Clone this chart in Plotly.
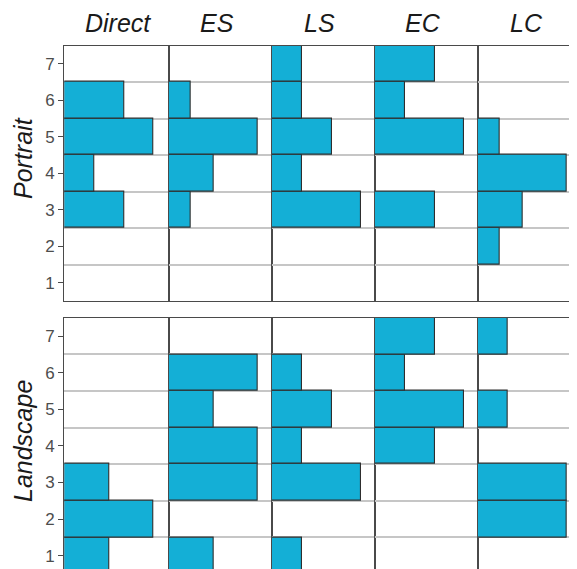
import plotly.graph_objects as go
from plotly.subplots import make_subplots

levels = [1, 2, 3, 4, 5, 6, 7]
methods = ["Direct", "ES", "LS", "EC", "LC"]
orientations = ["Portrait", "Landscape"]

portrait_direct = [0, 0, 2, 1, 3, 2, 0]
portrait_es = [0, 0, 1, 2, 4, 1, 0]
portrait_ls = [0, 0, 3, 1, 2, 1, 1]
portrait_ec = [0, 0, 2, 0, 3, 1, 2]
portrait_lc = [0, 1, 2, 4, 1, 0, 0]

landscape_direct = [2, 4, 2, 0, 0, 0, 0]
landscape_es = [1, 0, 2, 2, 1, 2, 0]
landscape_ls = [1, 0, 3, 1, 2, 1, 0]
landscape_ec = [0, 0, 0, 2, 3, 1, 2]
landscape_lc = [0, 3, 3, 0, 1, 0, 1]

rows_data = [
    [portrait_direct, portrait_es, portrait_ls, portrait_ec, portrait_lc],
    [landscape_direct, landscape_es, landscape_ls, landscape_ec, landscape_lc],
]

# page body has an 8px margin: the figure sits at (8, 8) in the window
OFF = 8
W, H = 577 - OFF, 569 - OFF
ML = 64 - OFF
MT = 37
PW, PH = W - ML, H - MT

# column boundaries in page px
col_page = [(64.3, 168.7), (168.7, 272), (272, 375), (375, 477.7), (477.7, 577)]
title_cx = [117.5, 216.5, 319, 422.5, 526]
# row boundaries in page px
row_page = [(45.7, 301.0), (317.7, 569.0)]
row_label_cy = [158, 441]
yranges = [[0.5, 7.5], [7.5 - (569.0 - 317.7) / 36.6, 7.5]]
MAXPX = 89.4


def px_x(p):
    return max(0.0, min(1.0, (p - OFF - ML) / PW))


def px_y(p):
    return max(0.0, min(1.0, (H - (p - OFF)) / PH))


def ann_x(p):
    return (p - OFF - ML) / PW


def ann_y(p):
    return (H - (p - OFF)) / PH


fig = make_subplots(rows=2, cols=5, horizontal_spacing=0, vertical_spacing=0)

FILL = "#14afd6"
EDGE = "#2e2e2e"
FRAME = "#4a4a4a"
GRID = "#c6c6c6"
FONT = "Liberation Sans, Arial, sans-serif"

for r in range(2):
    for c in range(5):
        vals = rows_data[r][c]
        ys = [lv for lv, v in zip(levels, vals) if v > 0]
        xs = [v for v in vals if v > 0]
        fig.add_trace(
            go.Bar(
                x=xs, y=ys, orientation="h", width=1,
                marker=dict(color=FILL, line=dict(color=EDGE, width=1.1)),
                showlegend=False, hoverinfo="skip",
            ),
            row=r + 1, col=c + 1,
        )
        x0, x1 = col_page[c]
        vmax = max(vals)
        xmax = vmax * (x1 - x0) / MAXPX
        top_p, bot_p = row_page[r]
        fig.update_xaxes(
            domain=[px_x(x0), px_x(x1)], range=[0, xmax],
            showgrid=False, zeroline=False, showticklabels=False, ticks="",
            showline=True, linecolor=FRAME, linewidth=1.3, automargin=False,
            mirror=(r == 0), side="top" if r == 1 else "bottom",
            row=r + 1, col=c + 1,
        )
        fig.update_yaxes(
            domain=[px_y(bot_p), px_y(top_p)], range=yranges[r],
            tickvals=levels, ticktext=[str(v) for v in levels],
            showticklabels=(c == 0), ticks="outside" if c == 0 else "",
            ticklen=5, tickcolor=FRAME, tickwidth=1, automargin=False,
            tickfont=dict(family=FONT, size=17, color="#4d4d4d"),
            showgrid=False, zeroline=False,
            minor=dict(tick0=0.5, dtick=1, showgrid=True, gridcolor=GRID, gridwidth=1.5, ticks=""),
            showline=True, linecolor=FRAME, linewidth=1.3,
            mirror=(c < 4),
            row=r + 1, col=c + 1,
        )

annotations = []
for c, name in enumerate(methods):
    annotations.append(dict(
        text=f"<i>{name}</i>", xref="paper", yref="paper",
        x=ann_x(title_cx[c]), y=ann_y(23),
        xanchor="center", yanchor="middle", showarrow=False,
        font=dict(family=FONT, size=25, color="#1a1a1a"),
    ))
for r, name in enumerate(orientations):
    annotations.append(dict(
        text=f"<i>{name}</i>", xref="paper", yref="paper",
        x=ann_x(23), y=ann_y(row_label_cy[r]), textangle=-90,
        xanchor="center", yanchor="middle", showarrow=False,
        font=dict(family=FONT, size=25, color="#1a1a1a"),
    ))

fig.update_layout(
    width=W, height=H,
    margin=dict(l=ML, r=0, t=MT, b=0, autoexpand=False),
    paper_bgcolor="white", plot_bgcolor="white",
    bargap=0, annotations=annotations,
)

fig.write_html("out.html")
